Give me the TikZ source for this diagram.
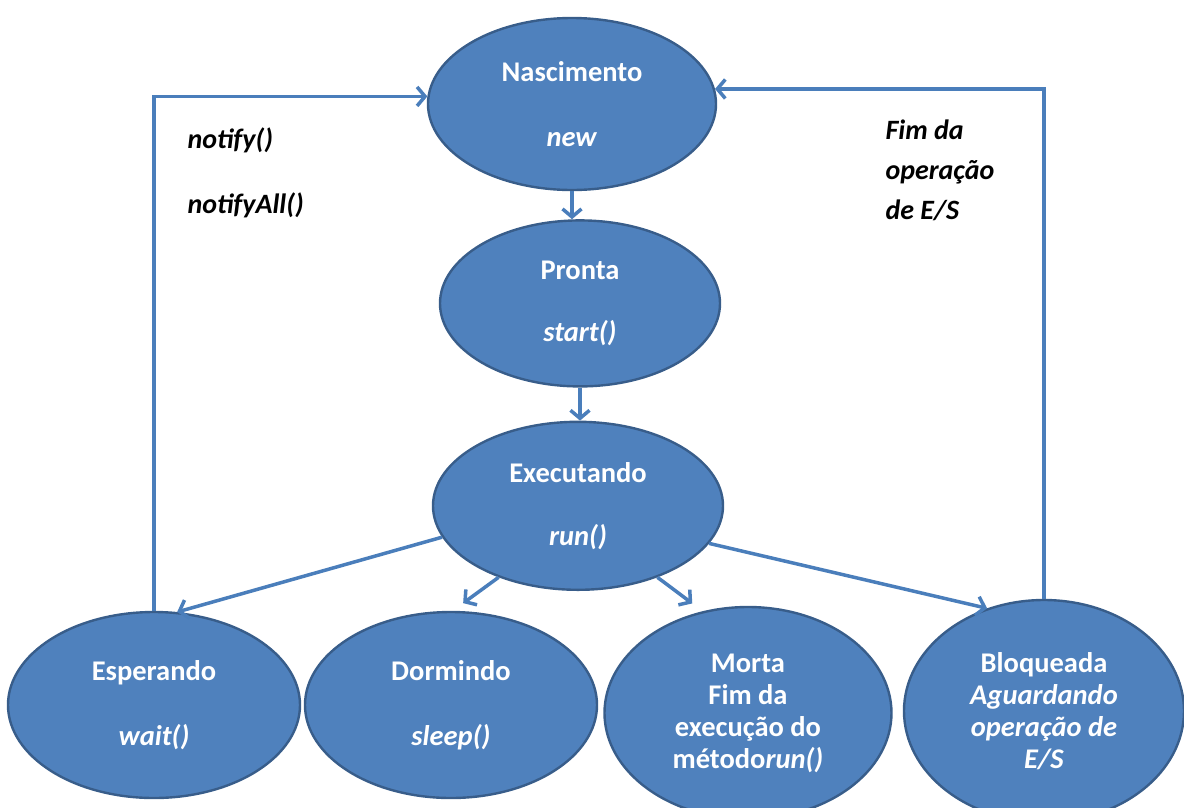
\documentclass[tikz,border=0pt]{standalone}
\usepackage{fontspec}
\setmainfont{Carlito}
\usetikzlibrary{positioning,arrows.meta,shapes.geometric,calc}
\definecolor{stateFill}{RGB}{79,129,189}
\definecolor{stateEdge}{RGB}{56,93,138}
\definecolor{lineBlue}{RGB}{74,126,187}

\begin{document}
\begin{tikzpicture}[x=1pt,y=-1pt,
      node distance=28pt,
      state/.style={ellipse,draw=stateEdge,fill=stateFill,line width=2.4pt,inner sep=0pt,align=center,text=white,font=\fontsize{28.5}{32}\selectfont\bfseries},
      note/.style={anchor=west,align=left,font=\fontsize{28}{40}\selectfont\bfseries\itshape},
      arr/.style={-{Straight Barb[length=8pt,width=19pt]},lineBlue,line width=3.5pt}]
    \useasboundingbox (0,0) rectangle (1184,807);
    \node[state,minimum width=288pt,minimum height=172pt] (nasc) at (572,104) {Nascimento\\[33pt]\textit{new}};
    \node[state,below=28pt of nasc,xshift=8pt,minimum width=280pt,minimum height=166pt] (pronta) {Pronta\\[30pt]\textit{start()}};
    \node[state,below=33pt of pronta,xshift=-2pt,minimum width=290pt,minimum height=168pt] (exec) {Executando\\[31pt]\textit{run()}};
    \node[state,minimum width=292pt,minimum height=186pt] (esp) at (154,705) {Esperando\\[33pt]\textit{wait()}};
    \node[state,minimum width=292pt,minimum height=186pt] (dorm) at (451,705) {Dormindo\\[33pt]\textit{sleep()}};
    \node[state,minimum width=287pt,minimum height=212pt] (morta) at (748,713) {Morta\\Fim da\\execução do\\método\textit{run()}};
    \node[state,minimum width=280pt,minimum height=222pt] (bloq) at (1044,711) {Bloqueada\\\textit{Aguardando}\\\textit{operação de}\\\textit{E/S}};
    \node[note] (notif) at (184,140) {notify()};
    \node[note] (notifall) at (184,205) {notifyAll()};
    \node[note] (fimes) at (882,170) {Fim da\\operação\\de E/S};
    \draw[arr] (nasc.south) -- (nasc.south |- pronta.north);
    \draw[arr] (pronta.south) -- (pronta.south |- exec.north);
    \draw[arr] (exec.193) -- (esp.76);
    \draw[arr,shorten >=13pt] (exec.222) -- (dorm.89);
    \draw[arr,shorten >=13pt] (exec.318) -- (morta.114);
    \draw[arr] (exec.344) -- (bloq.119);
    \draw[arr] (esp.north) |- (nasc.177);
    \draw[arr] (bloq.north) |- (nasc.6);
  \end{tikzpicture}
\end{document}
